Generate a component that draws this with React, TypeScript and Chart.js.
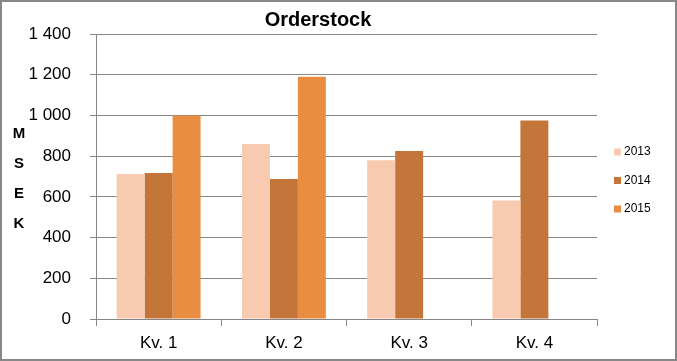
import React, { useEffect, useRef } from "react";
import { Chart, registerables } from "chart.js";

Chart.register(...registerables);

const categories = ["Kv. 1", "Kv. 2", "Kv. 3", "Kv. 4"];
const series2013 = [712, 860, 780, 582];
const series2014 = [717, 688, 825, 975];
const series2015: (number | null)[] = [1000, 1190, null, null];
const seriesNames = ["2013", "2014", "2015"];
const seriesColors = ["#F8CAAF", "#C4753A", "#E98D42"];
const yTicks = [0, 200, 400, 600, 800, 1000, 1200, 1400];
const yTitleLetters = ["M", "S", "E", "K"];
const chartTitle = "Orderstock";

const FONT = "'Liberation Sans', Arial, sans-serif";
const GRID = "#868686";

const decorPlugin = {
  id: "decor",
  afterDraw(chart: any) {
    const ctx = chart.ctx;
    ctx.save();
    // title
    ctx.fillStyle = "#000";
    ctx.font = `bold 20px ${FONT}`;
    ctx.textAlign = "center";
    ctx.textBaseline = "middle";
    ctx.fillText(chartTitle, 318, 20);
    // y title letters
    ctx.font = `bold 15px ${FONT}`;
    yTitleLetters.forEach((l, i) => {
      ctx.fillText(l, 19, 134 + i * 30);
    });
    // legend
    ctx.font = `12px ${FONT}`;
    ctx.textAlign = "left";
    chart.data.datasets.forEach((ds: any, i: number) => {
      const y = 152 + i * 28.5;
      ctx.fillStyle = ds.backgroundColor;
      ctx.fillRect(614, y - 3.5, 7, 7);
      ctx.fillStyle = "#000";
      ctx.fillText(ds.label, 624, y);
    });
    // outer border
    ctx.strokeStyle = "#878787";
    ctx.lineWidth = 2;
    ctx.strokeRect(1, 1, 675, 359);
    ctx.restore();
  },
};

export default function App() {
  const ref = useRef<HTMLCanvasElement>(null);
  useEffect(() => {
    document.body.style.margin = "0";
    const chart = new Chart(ref.current!, {
      type: "bar",
      data: {
        labels: categories,
        datasets: [series2013, series2014, series2015].map((d, i) => ({
          label: seriesNames[i],
          data: d,
          backgroundColor: seriesColors[i],
          borderWidth: 0,
          categoryPercentage: 0.67,
          barPercentage: 1,
        })),
      },
      options: {
        responsive: false,
        animation: false,
        devicePixelRatio: 1,
        layout: { padding: { top: 34, right: 80, left: 0, bottom: 0 } },
        plugins: {
          legend: { display: false },
          title: { display: false },
          tooltip: { enabled: false },
        },
        scales: {
          x: {
            grid: {
              drawOnChartArea: false,
              drawTicks: true,
              tickLength: 7,
              color: GRID,
              offset: true,
            },
            border: { display: true, color: GRID },
            ticks: { color: "#000", font: { family: FONT, size: 17 }, padding: 7 },
            afterFit: (s: any) => {
              s.height = 42;
            },
          },
          y: {
            min: 0,
            max: 1400,
            afterBuildTicks: (s: any) => {
              s.ticks = yTicks.map((v) => ({ value: v }));
            },
            grid: { color: GRID, tickLength: 6 },
            border: { display: true, color: GRID },
            ticks: {
              color: "#000",
              font: { family: FONT, size: 17 },
              padding: 19,
              callback: (v: any) => {
                const n = Number(v);
                return n >= 1000 ? `${Math.floor(n / 1000)} ${String(n % 1000).padStart(3, "0")}` : String(n);
              },
            },
            afterFit: (s: any) => {
              s.width = 96;
            },
          },
        },
      },
      plugins: [decorPlugin],
    });
    return () => chart.destroy();
  }, []);
  return (
    <div style={{ width: 677, height: 361 }}>
      <canvas ref={ref} width={677} height={361} style={{ display: "block" }} />
    </div>
  );
}
